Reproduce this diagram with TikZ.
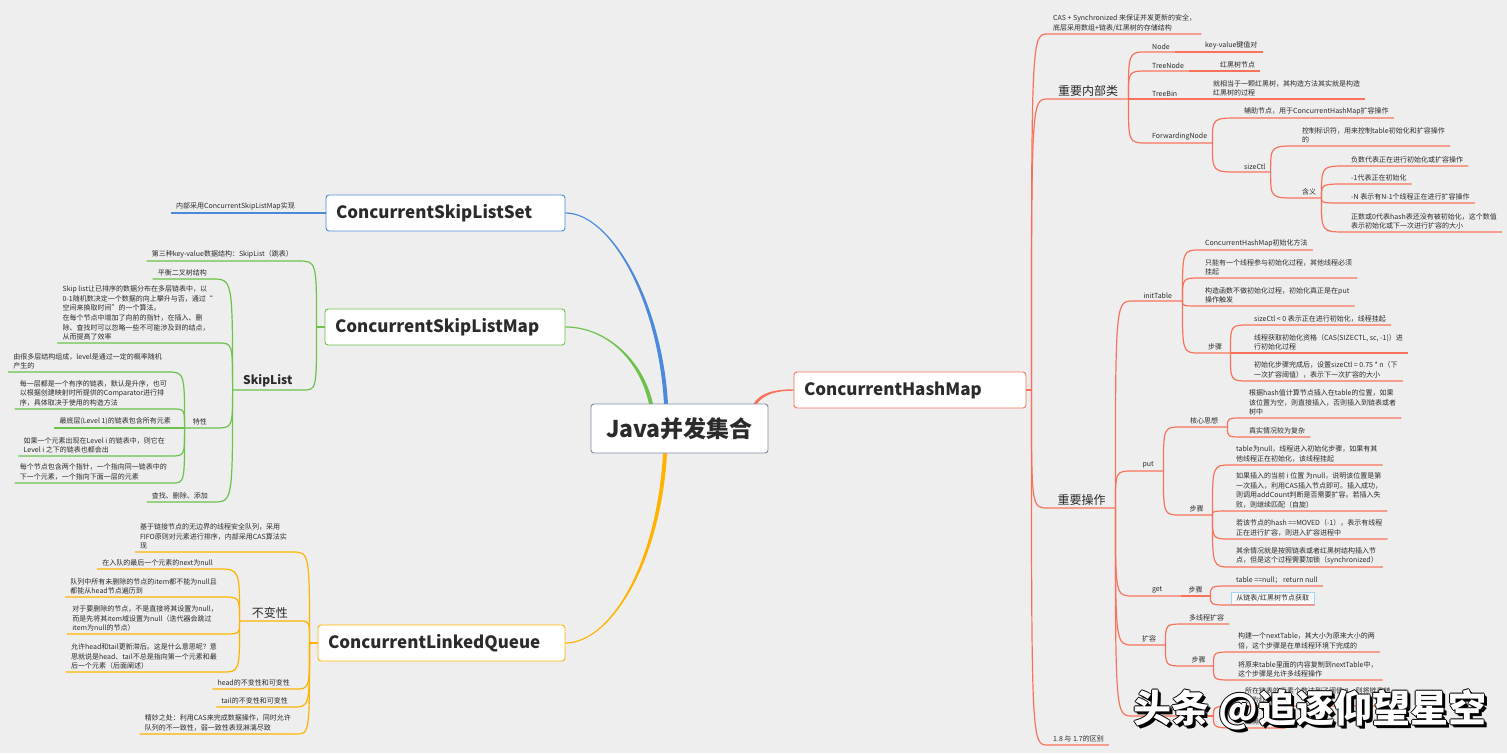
\documentclass[tikz,border=0pt]{standalone}
\usepackage{fontspec}
\setmainfont{Noto Sans CJK SC}
\usepackage{tikz}
\usetikzlibrary{calc}
\definecolor{bg}{HTML}{EEEEEE}
\definecolor{ink}{HTML}{2B2B2B}
\definecolor{coral}{HTML}{F9735B}
\definecolor{sky}{HTML}{4A89DC}
\definecolor{leaf}{HTML}{6CC24A}
\definecolor{gold}{HTML}{FFB300}
\definecolor{rootline}{HTML}{7D8BA7}
\definecolor{pick}{HTML}{9FD7F5}
\tikzset{
  topic/.style={anchor=south west, inner xsep=5pt, inner ysep=2.5pt, align=left,
    text=ink, font=\fontsize{7}{9.6}\selectfont},
  ltopic/.style={topic, anchor=south east},
  bigtopic/.style={topic, font=\fontsize{12}{14}\selectfont},
  lbigtopic/.style={bigtopic, anchor=south east},
  box/.style={rounded corners=3pt, fill=white, line width=0.9pt, minimum height=36pt,
    inner xsep=10pt, align=left, text=ink, font=\bfseries\fontsize{17}{20}\selectfont},
  centre/.style={box, draw=rootline, minimum height=49pt, minimum width=177pt,
    align=center, font=\bfseries\fontsize{23}{26}\selectfont},
  picked/.style={draw=pick, line width=0.9pt, fill=white!60!bg},
  redl/.style={draw=coral, line width=1.2pt},
  bluel/.style={draw=sky, line width=1.2pt},
  greenl/.style={draw=leaf, line width=1.2pt},
  goldl/.style={draw=gold, line width=1.2pt},
  wmark/.style={inner sep=0pt, font=\bfseries\fontsize{38}{40}\selectfont}
}
% underline links: parent point -> child underline
\newcommand{\rlink}[3]{\draw[#1] (#2) .. controls (#2 |- #3.south west) .. (#3.south west) -- (#3.south east);}
\newcommand{\llink}[3]{\draw[#1] (#2) .. controls (#2 |- #3.south east) .. (#3.south east) -- (#3.south west);}

\begin{document}
\begin{tikzpicture}[x=1pt,y=-1pt]
  \useasboundingbox (0,0) rectangle (1507,753);
  \fill[bg] (0,0) rectangle (1507,753);

  % ---- main boxes ----
  \coordinate (rootc) at (679.5,428.5);
  \coordinate (bs) at ($(rootc)+(-13.5,-24.5)$);
  \coordinate (gs) at ($(rootc)+(-28.5,-24.5)$);
  \coordinate (os) at ($(rootc)+(-14.5,24.5)$);
  \coordinate (rs) at ($(rootc)+(75.5,-24.5)$);

  \node[box, draw=coral, text width=212pt] (chm)  at (910,390)   {ConcurrentHashMap};
  \node[box, draw=sky,   text width=219pt] (csls) at (445.5,213) {ConcurrentSkipListSet};
  \node[box, draw=leaf,  text width=220pt] (cslm) at (445,327)   {ConcurrentSkipListMap};
  \node[box, draw=gold,  text width=227pt] (clq)  at (441.5,643) {ConcurrentLinkedQueue};

  % tapered main branches
  \fill[sky] ($(bs)+(2,0)$) .. controls ($(bs)+(-4,-104)$) and ($(csls.east)+(45,-0.6)$) .. ($(csls.east)+(0,-0.6)$)
    -- ($(csls.east)+(0,0.6)$) .. controls ($(csls.east)+(45,0.6)$) and ($(bs)+(-8,-104)$) .. ($(bs)+(-2,0)$) -- cycle;
  \fill[leaf] ($(gs)+(2,0)$) .. controls ($(gs)+(-8,-45)$) and ($(cslm.east)+(40,-0.6)$) .. ($(cslm.east)+(0,-0.6)$)
    -- ($(cslm.east)+(0,0.6)$) .. controls ($(cslm.east)+(40,0.6)$) and ($(gs)+(-12,-45)$) .. ($(gs)+(-2,0)$) -- cycle;
  \fill[gold] ($(os)+(2,0)$) .. controls ($(os)+(-4,110)$) and ($(clq.east)+(45,0.6)$) .. ($(clq.east)+(0,0.6)$)
    -- ($(clq.east)+(0,-0.6)$) .. controls ($(clq.east)+(45,-0.6)$) and ($(os)+(-8,110)$) .. ($(os)+(-2,0)$) -- cycle;
  \fill[coral] ($(rs)+(-1.6,0)$) .. controls ($(rs)+(6,-13)$) and ($(chm.west)+(-15,-0.7)$) .. ($(chm.west)+(0,-0.7)$)
    -- ($(chm.west)+(0,0.7)$) .. controls ($(chm.west)+(-15,0.7)$) and ($(rs)+(10,-11)$) .. ($(rs)+(1.6,0)$) -- cycle;

  \node[centre] (root) at (rootc) {Java并发集合};

  \coordinate (chmj)  at ([xshift=5pt]chm.east);
  \coordinate (cslmj) at ([xshift=-8pt]cslm.west);
  \coordinate (clqj)  at ([xshift=-8pt]clq.west);

  % ---- ConcurrentHashMap ----
  \node[topic] (cas) at (1048,34) {CAS + Synchronized 来保证并发更新的安全，\\底层采用数组+链表/红黑树的存储结构};
  \node[bigtopic, minimum width=80pt] (inner) at (1048,99) {重要内部类};
  \node[topic] (nd)  at (1147,52) {Node};
  \node[topic] (ndv) at (1200,52) {key-value键值对};
  \node[topic] (tn)  at (1147,71) {TreeNode};
  \node[topic] (tnv) at (1215,71) {红黑树节点};
  \node[topic] (tb)  at (1147,99) {TreeBin};
  \node[topic] (tbv) at (1208,99) {就相当于一颗红黑树，其构造方法其实就是构造\\红黑树的过程};
  \node[topic] (fwd)  at (1147,143) {ForwardingNode};
  \node[topic] (fwdv) at (1239,118) {辅助节点，用于ConcurrentHashMap扩容操作};
  \node[topic] (sc)   at (1239,172) {sizeCtl};
  \node[topic] (scv)  at (1297,146) {控制标识符，用来控制table初始化和扩容操作\\的};
  \node[topic] (mean)  at (1297,198) {含义};
  \node[topic] (mean1) at (1346,166) {负数代表正在进行初始化或扩容操作};
  \node[topic] (mean2) at (1346,184) {-1代表正在初始化};
  \node[topic] (mean3) at (1346,203) {-N 表示有N-1个线程正在进行扩容操作};
  \node[topic] (mean4) at (1346,232) {正数或0代表hash表还没有被初始化，这个数值\\表示初始化或下一次进行扩容的大小};

  \node[bigtopic, minimum width=67pt] (ops) at (1048,508) {重要操作};
  \node[topic, minimum width=49pt] (init) at (1133,301) {initTable};
  \node[topic] (init1) at (1200,250) {ConcurrentHashMap初始化方法};
  \node[topic] (init2) at (1200,278) {只能有一个线程参与初始化过程，其他线程必须\\挂起};
  \node[topic] (init3) at (1200,306) {构造函数不做初始化过程，初始化真正是在put\\操作触发};
  \node[topic, minimum width=30pt] (initstep) at (1200,353) {步骤};
  \node[topic] (initstep1) at (1249,325) {sizeCtl < 0 表示正在进行初始化，线程挂起};
  \node[topic] (initstep2) at (1249,353) {线程获取初始化资格（CAS(SIZECTL, sc, -1)）进\\行初始化过程};
  \node[topic] (initstep3) at (1249,381) {初始化步骤完成后，设置sizeCtl = 0.75 * n（下\\一次扩容阈值），表示下一次扩容的大小};

  \node[topic, minimum width=30pt] (put) at (1133,471) {put};
  \node[topic, minimum width=46pt] (core) at (1181,427) {核心思想};
  \node[topic] (core1) at (1244,418) {根据hash值计算节点插入在table的位置，如果\\该位置为空，则直接插入，否则插入到链表或者\\树中};
  \node[topic] (core2) at (1244,437) {真实情况较为复杂};
  \node[topic, minimum width=31pt] (putstep) at (1181,515) {步骤};
  \node[topic] (putstep1) at (1231,465) {table为null，线程进入初始化步骤，如果有其\\他线程正在初始化，该线程挂起};
  \node[topic] (putstep2) at (1231,511) {如果插入的当前 i 位置 为null，说明该位置是第\\一次插入，利用CAS插入节点即可。插入成功，\\则调用addCount判断是否需要扩容。若插入失\\败，则继续匹配（自旋）};
  \node[topic] (putstep3) at (1231,539) {若该节点的hash ==MOVED（-1），表示有线程\\正在进行扩容，则进入扩容进程中};
  \node[topic] (putstep4) at (1231,567) {其余情况就是按照链表或者红黑树结构插入节\\点，但是这个过程需要加锁（synchronized）};

  \node[topic, minimum width=48pt] (get) at (1133,596) {get};
  \node[topic, minimum width=29pt] (getstep) at (1181,596) {步骤};
  \node[topic] (getstep1) at (1231,586) {table ==null； return null};
  \node[topic, picked] (getstep2) at (1231,605) {从链表/红黑树节点获取};

  \node[topic, minimum width=32pt] (grow) at (1133,645) {扩容};
  \node[topic] (grow1) at (1184,624) {多线程扩容};
  \node[topic, minimum width=29pt] (growstep) at (1184,666) {步骤};
  \node[topic] (growstep1) at (1233,652) {构建一个nextTable，其大小为原来大小的两\\倍，这个步骤是在单线程环境下完成的};
  \node[topic] (growstep2) at (1233,680) {将原来table里面的内容复制到nextTable中，\\这个步骤是允许多线程操作};

  \node[topic] (treeify) at (1133,716) {红黑树转换};
  \node[topic, minimum width=29pt] (treestep) at (1184,716) {步骤};
  \node[topic] (treestep1) at (1240,706) {所在链表的元素个数达到了阈值 8，则将链表转\\换为红黑树};
  \node[topic] (treestep2) at (1240,728) {红黑树算法};

  \node[topic] (diff) at (1048,745) {1.8 与 1.7的区别};

  \draw[redl] (chm.east) -- (chmj);
  \rlink{redl}{chmj}{cas}
  \rlink{redl}{chmj}{inner}
  \rlink{redl}{chmj}{ops}
  \rlink{redl}{chmj}{diff}
  \rlink{redl}{inner.south east}{nd}
  \rlink{redl}{inner.south east}{tn}
  \rlink{redl}{inner.south east}{tb}
  \rlink{redl}{inner.south east}{fwd}
  \rlink{redl}{nd.south east}{ndv}
  \rlink{redl}{tn.south east}{tnv}
  \rlink{redl}{tb.south east}{tbv}
  \rlink{redl}{fwd.south east}{fwdv}
  \rlink{redl}{fwd.south east}{sc}
  \rlink{redl}{sc.south east}{scv}
  \rlink{redl}{sc.south east}{mean}
  \rlink{redl}{mean.south east}{mean1}
  \rlink{redl}{mean.south east}{mean2}
  \rlink{redl}{mean.south east}{mean3}
  \rlink{redl}{mean.south east}{mean4}

  \rlink{redl}{ops.south east}{init}
  \rlink{redl}{ops.south east}{put}
  \rlink{redl}{ops.south east}{get}
  \rlink{redl}{ops.south east}{grow}
  \rlink{redl}{ops.south east}{treeify}
  \rlink{redl}{init.south east}{init1}
  \rlink{redl}{init.south east}{init2}
  \rlink{redl}{init.south east}{init3}
  \rlink{redl}{init.south east}{initstep}
  \rlink{redl}{initstep.south east}{initstep1}
  \rlink{redl}{initstep.south east}{initstep2}
  \rlink{redl}{initstep.south east}{initstep3}
  \rlink{redl}{put.south east}{core}
  \rlink{redl}{put.south east}{putstep}
  \rlink{redl}{core.south east}{core1}
  \rlink{redl}{core.south east}{core2}
  \rlink{redl}{putstep.south east}{putstep1}
  \rlink{redl}{putstep.south east}{putstep2}
  \rlink{redl}{putstep.south east}{putstep3}
  \rlink{redl}{putstep.south east}{putstep4}
  \rlink{redl}{get.south east}{getstep}
  \rlink{redl}{getstep.south east}{getstep1}
  \rlink{redl}{getstep.south east}{getstep2}
  \rlink{redl}{grow.south east}{grow1}
  \rlink{redl}{grow.south east}{growstep}
  \rlink{redl}{growstep.south east}{growstep1}
  \rlink{redl}{growstep.south east}{growstep2}
  \rlink{redl}{treeify.south east}{treestep}
  \rlink{redl}{treestep.south east}{treestep1}
  \rlink{redl}{treestep.south east}{treestep2}

  % ---- ConcurrentSkipListSet / Map ----
  \node[ltopic] (setimpl) at (300,213) {内部采用ConcurrentSkipListMap实现};
  \llink{bluel}{csls.west}{setimpl}

  \node[ltopic] (kv) at (298,261) {第三种key-value数据结构：SkipList（跳表）};
  \node[lbigtopic, font=\bfseries\fontsize{12}{14}\selectfont, minimum width=70pt] (skip) at (303,390) {SkipList};
  \node[ltopic] (bal) at (212,279) {平衡二叉树结构};
  \node[ltopic] (skipdesc) at (218,343) {Skip list让已排序的数据分布在多层链表中，以\\0-1随机数决定一个数据的向上攀升与否，通过“\\空间来换取时间”的一个算法。\\在每个节点中增加了向前的指针，在插入、删\\除、查找时可以忽略一些不可能涉及到的结点，\\从而提高了效率};
  \node[ltopic, minimum width=30pt] (feat) at (215,428) {特性};
  \node[ltopic] (feat1) at (167,372) {由很多层结构组成，level是通过一定的概率随机\\产生的};
  \node[ltopic] (feat2) at (172,409) {每一层都是一个有序的链表，默认是升序，也可\\以根据创建映射时所提供的Comparator进行排\\序，具体取决于使用的构造方法};
  \node[ltopic] (feat3) at (176,428) {最底层(Level 1)的链表包含所有元素};
  \node[ltopic] (feat4) at (170,456) {如果一个元素出现在Level i 的链表中，则它在\\Level i 之下的链表也都会出};
  \node[ltopic] (feat5) at (172,483) {每个节点包含两个指针，一个指向同一链表中的\\下一个元素，一个指向下面一层的元素};
  \node[ltopic] (crud) at (213,502) {查找、删除、添加};

  \draw[greenl] (cslm.west) -- (cslmj);
  \llink{greenl}{cslmj}{kv}
  \llink{greenl}{cslmj}{skip}
  \llink{greenl}{skip.south west}{bal}
  \llink{greenl}{skip.south west}{skipdesc}
  \llink{greenl}{skip.south west}{feat}
  \llink{greenl}{skip.south west}{crud}
  \llink{greenl}{feat.south west}{feat1}
  \llink{greenl}{feat.south west}{feat2}
  \llink{greenl}{feat.south west}{feat3}
  \llink{greenl}{feat.south west}{feat4}
  \llink{greenl}{feat.south west}{feat5}

  % ---- ConcurrentLinkedQueue ----
  \node[ltopic] (q1) at (292,552) {基于链接节点的无边界的线程安全队列，采用\\FIFO原则对元素进行排序，内部采用CAS算法实\\现};
  \node[lbigtopic, minimum width=60pt] (inv) at (300,621) {不变性};
  \node[ltopic] (inv1) at (218,569) {在入队的最后一个元素的next为null};
  \node[ltopic] (inv2) at (222,597) {队列中所有未删除的节点的item都不能为null且\\都能从head节点遍历到};
  \node[ltopic] (inv3) at (223,634) {对于要删除的节点，不是直接将其设置为null，\\而是先将其item域设置为null（迭代器会跳过\\item为null的节点）};
  \node[ltopic] (inv4) at (222,672) {允许head和tail更新滞后。这是什么意思呢？意\\思就说是head、tail不总是指向第一个元素和最\\后一个元素（后面阐述）};
  \node[ltopic] (q2) at (295,689) {head的不变性和可变性};
  \node[ltopic] (q3) at (293,707) {tail的不变性和可变性};
  \node[ltopic] (q4) at (296,734) {精妙之处：利用CAS来完成数据操作，同时允许\\队列的不一致性，弱一致性表现淋漓尽致};

  \draw[goldl] (clq.west) -- (clqj);
  \llink{goldl}{clqj}{q1}
  \llink{goldl}{clqj}{inv}
  \llink{goldl}{clqj}{q2}
  \llink{goldl}{clqj}{q3}
  \llink{goldl}{clqj}{q4}
  \llink{goldl}{inv.south west}{inv1}
  \llink{goldl}{inv.south west}{inv2}
  \llink{goldl}{inv.south west}{inv3}
  \llink{goldl}{inv.south west}{inv4}

  % ---- watermark ----
  \foreach \dx/\dy [count=\i] in {3/3, 2/2, 1/0, -1/0, 0/1, 0/-1}
    \node[wmark, text=black] (wmshade\i) at (1310+\dx,710+\dy) {头条 @追逐仰望星空};
  \node[wmark, text=white] (wm) at (1310,710) {头条 @追逐仰望星空};
\end{tikzpicture}
\end{document}
